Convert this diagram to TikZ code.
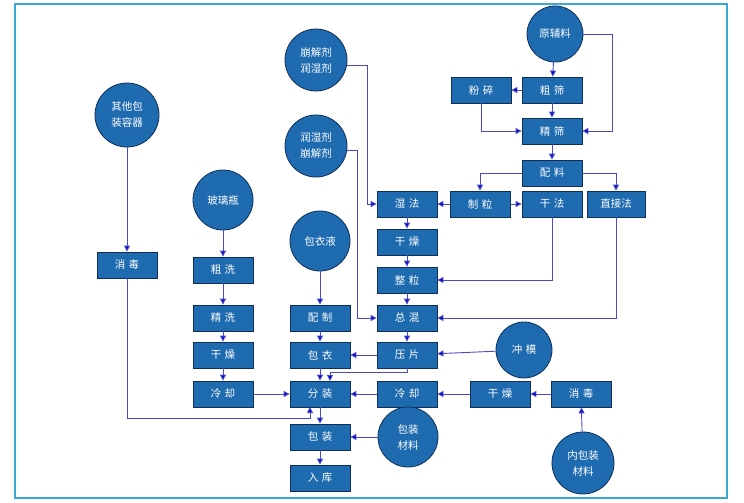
\documentclass[tikz,border=0pt]{standalone}
\usepackage{fontspec}
\newfontfamily\cjk{Noto Sans CJK SC}
\usetikzlibrary{arrows.meta}
\definecolor{bfill}{HTML}{1F6BB0}
\definecolor{bdraw}{HTML}{0F2F5A}
\definecolor{lin}{HTML}{4A4AC8}
\definecolor{frm}{HTML}{3BA7D9}
\begin{document}
\begin{tikzpicture}[x=1pt,y=-1pt,
  box/.style={draw=bdraw,fill=bfill,line width=0.8pt,minimum width=60pt,minimum height=26pt,inner sep=0pt,text=white,font=\cjk\fontsize{10.5}{12}\selectfont},
  circ/.style={circle,draw=bdraw,fill=bfill,line width=0.8pt,inner sep=0pt,text=white,align=center,font=\cjk\fontsize{10.5}{16}\selectfont},
  ar/.style={draw=lin,line width=0.9pt,-{Triangle[length=6pt,width=6pt,fill=blue!80!black]}}]
\useasboundingbox (0,0) rectangle (744,503);
\draw[frm,line width=2pt] (15,4) rectangle (727,498);
% nodes
\node[circ,minimum size=56pt] (yfl) at (555,34) {原辅料};
\node[box] (fs) at (481,90) {粉\,\,碎};
\node[box] (cs) at (552,90) {粗\,\,筛};
\node[box] (js) at (552,131) {精\,\,筛};
\node[box] (pl) at (552,173) {配\,\,料};
\node[box] (sf) at (407,204) {湿\,\,法};
\node[box] (zl) at (480,204) {制\,\,粒};
\node[box] (gf) at (552,204) {干\,\,法};
\node[box,minimum width=58pt] (zjf) at (616,204) {直接法};
\node[box] (gz1) at (407,242) {干\,\,燥};
\node[box] (zhl) at (407,280) {整\,\,粒};
\node[box] (zh) at (407,318) {总\,\,混};
\node[box] (yp) at (407,355) {压\,\,片};
\node[box] (lq2) at (407,394) {冷\,\,却};
\node[circ,minimum size=62pt] (bj1) at (316,60) {崩解剂\\润湿剂};
\node[circ,minimum size=62pt] (bj2) at (316,146) {润湿剂\\崩解剂};
\node[circ,minimum size=60pt] (byy) at (320,241) {包衣液};
\node[box] (pz) at (320,318) {配\,\,制};
\node[box] (by) at (320,355) {包\,\,衣};
\node[box] (fz) at (320,394) {分\,\,装};
\node[box] (bz) at (320,437) {包\,\,装};
\node[box] (rk) at (320,478) {入\,\,库};
\node[circ,minimum size=60pt] (blp) at (223,200) {玻璃瓶};
\node[box] (cx) at (223,270) {粗\,\,洗};
\node[box] (jx) at (223,318) {精\,\,洗};
\node[box] (gz0) at (223,355) {干\,\,燥};
\node[box] (lq1) at (223,394) {冷\,\,却};
\node[circ,minimum size=64pt] (qt) at (127,115) {其他包\\装容器};
\node[box] (xd1) at (127,265) {消\,\,毒};
\node[circ,minimum size=56pt] (cm) at (524,350) {冲\,\,模};
\node[circ,minimum size=60pt] (bzcl) at (408,437) {包装\\材料};
\node[box] (gz2) at (500,394) {干\,\,燥};
\node[box] (xd2) at (581,394) {消\,\,毒};
\node[circ,minimum size=62pt] (nbz) at (583,463) {内包装\\材料};
% connectors
\draw[ar] (yfl) -- (cs);
\draw[ar] (yfl.east) -| (612,131) -- (js.east);
\draw[ar] (cs) -- (fs);
\draw[ar] (fs.south) |- (js.west);
\draw[ar] (cs) -- (js);
\draw[ar] (js) -- (pl);
\draw[ar] (pl.west) -| (zl.north);
\draw[ar] (pl.east) -| (zjf.north);
\draw[ar] (zl) -- (sf);
\draw[ar] (zl) -- (gf);
\draw[ar] (bj1.east|-0,65) -| (367,204) -- (sf.west);
\draw[ar] (bj2.east|-0,150) -| (357,318) -- (zh.west);
\draw[ar] (sf) -- (gz1);
\draw[ar] (gz1) -- (zhl);
\draw[ar] (zhl) -- (zh);
\draw[ar] (zh) -- (yp);
\draw[ar] (gf.south) |- (zhl.east);
\draw[ar] (zjf.south) |- (zh.east);
\draw[ar] (cm) -- (yp);
\draw[ar] (yp) -- (by);
\draw[ar] (yp.south) |- (330,372) -- (330,381);
\draw[ar] (by) -- (fz);
\draw[ar] (byy) -- (pz);
\draw[ar] (pz) -- (by);
\draw[ar] (blp) -- (cx);
\draw[ar] (cx) -- (jx);
\draw[ar] (jx) -- (gz0);
\draw[ar] (gz0) -- (lq1);
\draw[ar] (lq1) -- (fz);
\draw[ar] (qt) -- (xd1);
\draw[ar] (xd1.south) |- (310,418) -- (310,407);
\draw[ar] (fz) -- (bz);
\draw[ar] (bz) -- (rk);
\draw[ar] (bzcl) -- (bz);
\draw[ar] (lq2) -- (fz);
\draw[ar] (gz2) -- (lq2);
\draw[ar] (xd2) -- (gz2);
\draw[ar] (nbz) -- (xd2);
\end{tikzpicture}
\end{document}
